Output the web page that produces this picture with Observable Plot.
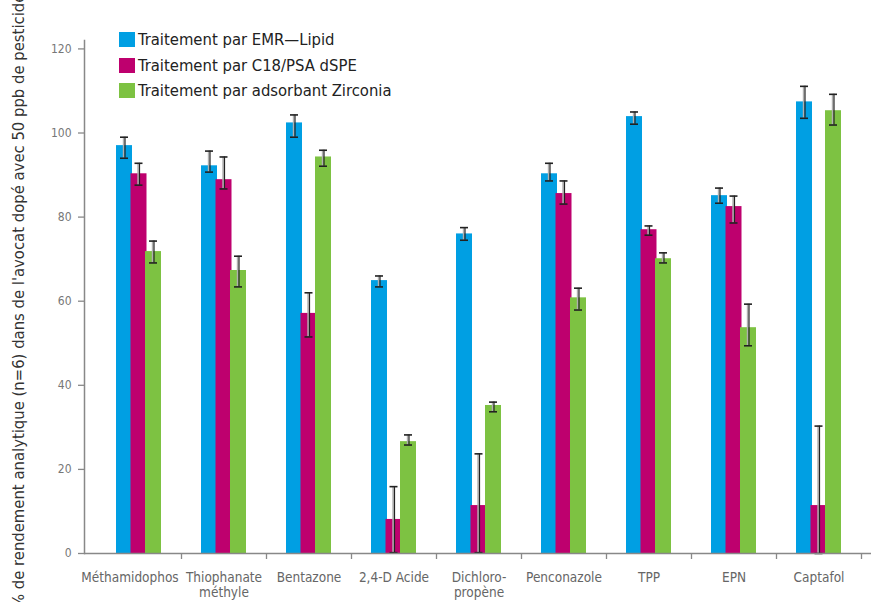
<!DOCTYPE html>
<html><head><meta charset="utf-8">
<script src="https://cdn.jsdelivr.net/npm/d3@7"></script>
<script src="https://cdn.jsdelivr.net/npm/@observablehq/plot@0.6"></script>
<style>
body{margin:0;background:#fff;}
#wrap{position:relative;width:873px;height:602px;overflow:hidden;font-family:"Liberation Sans Narrow","DejaVu Sans Condensed","Arial Narrow",sans-serif;}
#legend{position:absolute;left:119px;top:27px;}
.row{display:flex;align-items:center;height:25.5px;font-size:16.5px;letter-spacing:0;color:#222;}
.sw{width:16px;height:15px;margin-right:3px;flex:none;}
</style></head><body><div id="wrap"><div id="legend"></div></div>
<script>
const categories = ["Méthamidophos","Thiophanate\nméthyle","Bentazone","2,4-D Acide","Dichloro-\npropène","Penconazole","TPP","EPN","Captafol"];
const series = ["Traitement par EMR\u2014Lipid","Traitement par C18/PSA dSPE","Traitement par adsorbant Zirconia"];
const colors = ["#009FE3","#BE006E","#7DC242"];

const emr   = [97.0, 92.2, 102.4, 64.9, 76.0, 90.3, 103.9, 85.1, 107.4];
const emrLo = [94.0, 90.7,  99.0, 63.4, 74.5, 88.6, 102.1, 83.3, 103.5];
const emrHi = [99.0, 95.7, 104.3, 66.0, 77.5, 92.8, 105.0, 86.9, 111.1];

const c18   = [90.3, 88.9, 57.1,  8.1, 11.4, 85.6, 77.0, 82.5, 11.4];
const c18Lo = [87.6, 86.7, 51.5,  0.2,  0.2, 83.1, 75.7, 78.6,  0.0];
const c18Hi = [92.8, 94.3, 62.0, 15.9, 23.7, 88.6, 77.9, 85.0, 30.3];

const zr    = [71.8, 67.3, 94.3, 26.6, 35.2, 60.8, 70.1, 53.7, 105.3];
const zrLo  = [69.1, 63.4, 92.1, 25.8, 33.7, 57.9, 69.1, 49.4, 101.9];
const zrHi  = [74.3, 70.7, 95.9, 28.2, 36.0, 63.1, 71.5, 59.3, 109.2];

const yTicks = [0, 20, 40, 60, 80, 100, 120];
const yLabel = "% de rendement analytique (n=6) dans de l'avocat dopé avec 50 ppb de pesticides";

const values = [emr, c18, zr], los = [emrLo, c18Lo, zrLo], his = [emrHi, c18Hi, zrHi];
const rows = series.map((s, i) => categories.map((c, j) => ({cat: c, series: s, value: values[i][j], lo: los[i][j], hi: his[i][j]})));

const step = 14.5;
const offsets = [-step, 0, step];
const bandW = 85, barW = 16, capW = 8;
const barInset = (bandW - barW) / 2, capInset = (bandW - capW) / 2;

const marks = [];
rows.forEach((data, i) => {
  marks.push(Plot.barY(data, {x: "cat", y: "value", fill: colors[i], insetLeft: barInset, insetRight: barInset, dx: offsets[i]}));
});
rows.forEach((data, i) => {
  marks.push(Plot.ruleX(data, {x: "cat", y1: "lo", y2: "hi", stroke: "#b0b0b0", strokeWidth: 1.6, dx: offsets[i] - 0.9}));
  marks.push(Plot.ruleX(data, {x: "cat", y1: "lo", y2: "hi", stroke: "#222", strokeWidth: 1.2, dx: offsets[i] + 0.5}));
  marks.push(Plot.tickY(data, {x: "cat", y: "lo", stroke: "#222", strokeWidth: 1.6, insetLeft: capInset, insetRight: capInset, dx: offsets[i]}));
  marks.push(Plot.tickY(data, {x: "cat", y: "hi", stroke: "#222", strokeWidth: 1.6, insetLeft: capInset, insetRight: capInset, dx: offsets[i]}));
});

const xLabelStyle = {tickSize: 0, tickPadding: 18, fill: "#666", fontSize: 13.5, lineHeight: 1.11, label: null};

const chart = Plot.plot({
  width: 873,
  height: 602,
  marginLeft: 84,
  marginRight: 2,
  marginTop: 40,
  marginBottom: 49,
  style: {fontFamily: '"Liberation Sans Narrow","DejaVu Sans Condensed","Arial Narrow",sans-serif', background: "#fff"},
  x: {domain: categories, padding: 0, insetLeft: 12, insetRight: 10},
  y: {domain: [0, 122]},
  marks: [
    ...marks,
    Plot.ruleY([0], {stroke: "#888", strokeWidth: 1.5}),
    Plot.frame({anchor: "left", stroke: "#888", strokeWidth: 1.5}),
    Plot.axisY({ticks: yTicks, tickSize: 6, tickPadding: 7, stroke: "#888", strokeWidth: 1.3, fill: "#777", fontSize: 12, label: null}),
    Plot.axisX({...xLabelStyle, ticks: categories.slice(1)}),
    Plot.axisX({...xLabelStyle, ticks: categories.slice(0, 1), dx: -9}),
    Plot.axisX({tickSize: 6, fill: "none", stroke: "#888", strokeWidth: 1.3, dx: bandW / 2, label: null}),
    Plot.text([yLabel], {frameAnchor: "left", rotate: -90, dx: -66, textAnchor: "middle", lineAnchor: "middle", fill: "#333", fontSize: 16.5})
  ]
});
document.getElementById("wrap").prepend(chart);

const legend = document.getElementById("legend");
series.forEach((s, i) => {
  const r = document.createElement("div");
  r.className = "row";
  const sw = document.createElement("div");
  sw.className = "sw";
  sw.style.background = colors[i];
  const t = document.createElement("span");
  t.textContent = s;
  r.append(sw, t);
  legend.append(r);
});
</script>
</body></html>
